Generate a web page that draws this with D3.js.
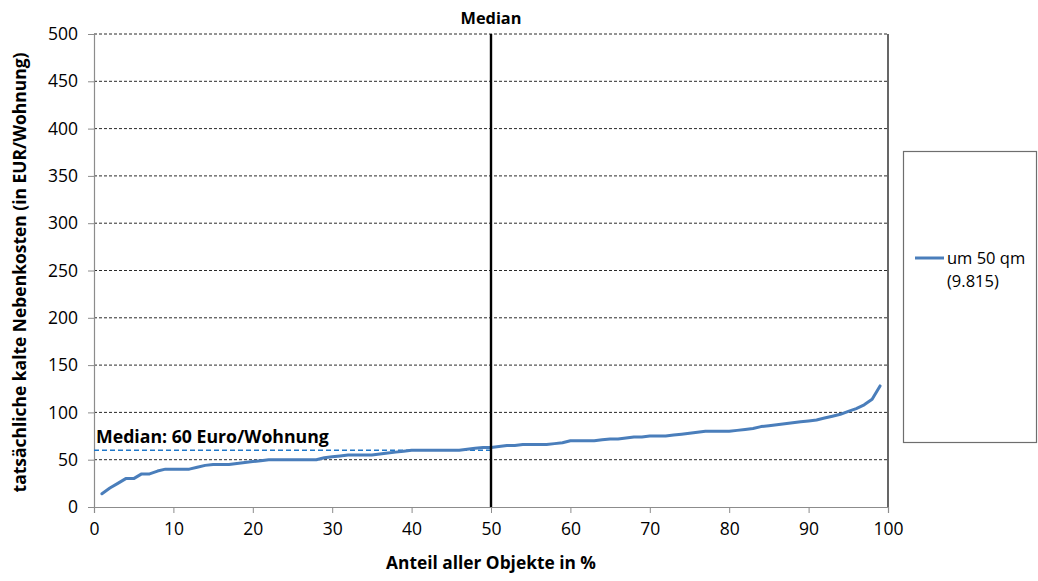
<!DOCTYPE html>
<html>
<head>
<meta charset="utf-8">
<script src="https://cdn.jsdelivr.net/npm/d3@7"></script>
<style>
  html, body { margin: 0; padding: 0; background: #fff; }
  svg { display: block; font-family: "Open Sans", "Noto Sans", sans-serif; }
</style>
</head>
<body>
<svg id="chart" width="1038" height="581"></svg>
<script>
// Percentile positions (share of all objects, %)
const shares = d3.range(1, 100);
// Actual cold service charges per dwelling (EUR) at each percentile, dwellings around 50 sqm
const costs = [
  14, 20, 25, 30, 30, 35, 35, 38, 40, 40,
  40, 40, 42, 44, 45, 45, 45, 46, 47, 48,
  49, 50, 50, 50, 50, 50, 50, 50, 52, 53,
  54, 55, 55, 55, 55, 56, 57, 58, 59, 60,
  60, 60, 60, 60, 60, 60, 61, 62, 63, 63,
  64, 65, 65, 66, 66, 66, 66, 67, 68, 70,
  70, 70, 70, 71, 72, 72, 73, 74, 74, 75,
  75, 75, 76, 77, 78, 79, 80, 80, 80, 80,
  81, 82, 83, 85, 86, 87, 88, 89, 90, 91,
  92, 94, 96, 98, 101, 104, 108, 114, 128
];
const xTicks = [0, 10, 20, 30, 40, 50, 60, 70, 80, 90, 100];
const yTicks = [0, 50, 100, 150, 200, 250, 300, 350, 400, 450, 500];
const medianShare = 50;
const medianValue = 60;
const seriesName = ["um 50 qm", "(9.815)"];
const medianLabel = "Median: " + medianValue + " Euro/Wohnung";

const svg = d3.select("#chart");
const plot = { left: 94, right: 888, top: 34, bottom: 507 };

const x = d3.scaleLinear().domain([0, 100]).range([plot.left, plot.right]);
const y = d3.scaleLinear().domain([0, 500]).range([plot.bottom, plot.top]);

// Shrink or grow a text element's font so it spans a given width
function fitWidth(sel, width) {
  const node = sel.node();
  const fs = parseFloat(sel.attr("font-size"));
  const w = node.getComputedTextLength();
  sel.attr("font-size", (fs * width / w).toFixed(2));
}

// Horizontal dashed gridlines
svg.append("g")
  .selectAll("line")
  .data(yTicks.filter(d => d > 0))
  .join("line")
  .attr("x1", plot.left).attr("x2", plot.right)
  .attr("y1", d => y(d)).attr("y2", d => y(d))
  .attr("stroke", "#2a2a2a")
  .attr("stroke-width", 1)
  .attr("stroke-dasharray", "3,2");

// Right frame line
svg.append("line")
  .attr("x1", plot.right).attr("x2", plot.right)
  .attr("y1", plot.top).attr("y2", plot.bottom)
  .attr("stroke", "#000").attr("stroke-width", 1.2);

// Y axis
const yAxis = svg.append("g")
  .attr("transform", `translate(${plot.left},0)`)
  .call(d3.axisLeft(y).tickValues(yTicks).tickSize(6).tickPadding(10));
yAxis.select(".domain").attr("stroke", "#8c8c8c").attr("stroke-width", 1.2);
yAxis.selectAll(".tick line").attr("stroke", "#8c8c8c");
yAxis.selectAll(".tick text")
  .attr("font-size", 17.5)
  .attr("fill", "#000")
  .attr("font-family", "Open Sans, sans-serif");

// X axis
const xAxis = svg.append("g")
  .attr("transform", `translate(0,${plot.bottom})`)
  .call(d3.axisBottom(x).tickValues(xTicks).tickSize(6).tickPadding(10));
xAxis.select(".domain").attr("stroke", "#8c8c8c").attr("stroke-width", 1.2);
xAxis.selectAll(".tick line").attr("stroke", "#8c8c8c");
xAxis.selectAll(".tick text")
  .attr("font-size", 17.5)
  .attr("fill", "#000")
  .attr("font-family", "Open Sans, sans-serif");

// Median reference level (dashed, up to the median share)
svg.append("line")
  .attr("x1", x(0)).attr("x2", x(medianShare))
  .attr("y1", y(medianValue)).attr("y2", y(medianValue))
  .attr("stroke", "#1f77c8")
  .attr("stroke-width", 1.6)
  .attr("stroke-dasharray", "5,3");

// Distribution curve
const line = d3.line().x((d, i) => x(shares[i])).y(d => y(d));
svg.append("path")
  .datum(costs)
  .attr("d", line)
  .attr("fill", "none")
  .attr("stroke", "#4a7ebb")
  .attr("stroke-width", 3)
  .attr("stroke-linejoin", "round")
  .attr("stroke-linecap", "round");

// Vertical median marker
svg.append("line")
  .attr("x1", x(medianShare)).attr("x2", x(medianShare))
  .attr("y1", plot.top).attr("y2", plot.bottom)
  .attr("stroke", "#000").attr("stroke-width", 2.4);

const mt = svg.append("text")
  .attr("x", x(medianShare)).attr("y", 24)
  .attr("text-anchor", "middle")
  .attr("font-weight", "bold")
  .attr("font-size", 15)
  .text("Median");
fitWidth(mt, 61);

// Median annotation
const ml = svg.append("text")
  .attr("x", 96).attr("y", 443)
  .attr("font-weight", "bold")
  .attr("font-size", 15)
  .text(medianLabel);
fitWidth(ml, 233);

// Axis titles
const xt = svg.append("text")
  .attr("x", x(50)).attr("y", 569)
  .attr("text-anchor", "middle")
  .attr("font-weight", "bold")
  .attr("font-size", 14)
  .text("Anteil aller Objekte in %");
fitWidth(xt, 210);

const yt = svg.append("text")
  .attr("transform", `translate(26,${(plot.top + plot.bottom) / 2 + 2}) rotate(-90)`)
  .attr("text-anchor", "middle")
  .attr("font-weight", "bold")
  .attr("font-size", 14)
  .text("tatsächliche kalte Nebenkosten (in EUR/Wohnung)");
fitWidth(yt, 440);

// Legend
const lg = svg.append("g");
lg.append("rect")
  .attr("x", 903.5).attr("y", 151.5)
  .attr("width", 133).attr("height", 291)
  .attr("fill", "#fff")
  .attr("stroke", "#6e6e6e").attr("stroke-width", 1.2);
lg.append("line")
  .attr("x1", 915).attr("x2", 944)
  .attr("y1", 258).attr("y2", 258)
  .attr("stroke", "#4a7ebb").attr("stroke-width", 3);
lg.selectAll("text.entry")
  .data(seriesName)
  .join("text")
  .attr("class", "entry")
  .attr("x", 947)
  .attr("y", (d, i) => 264 + i * 23)
  .attr("font-size", 16.5)
  .text(d => d);
</script>
</body>
</html>
